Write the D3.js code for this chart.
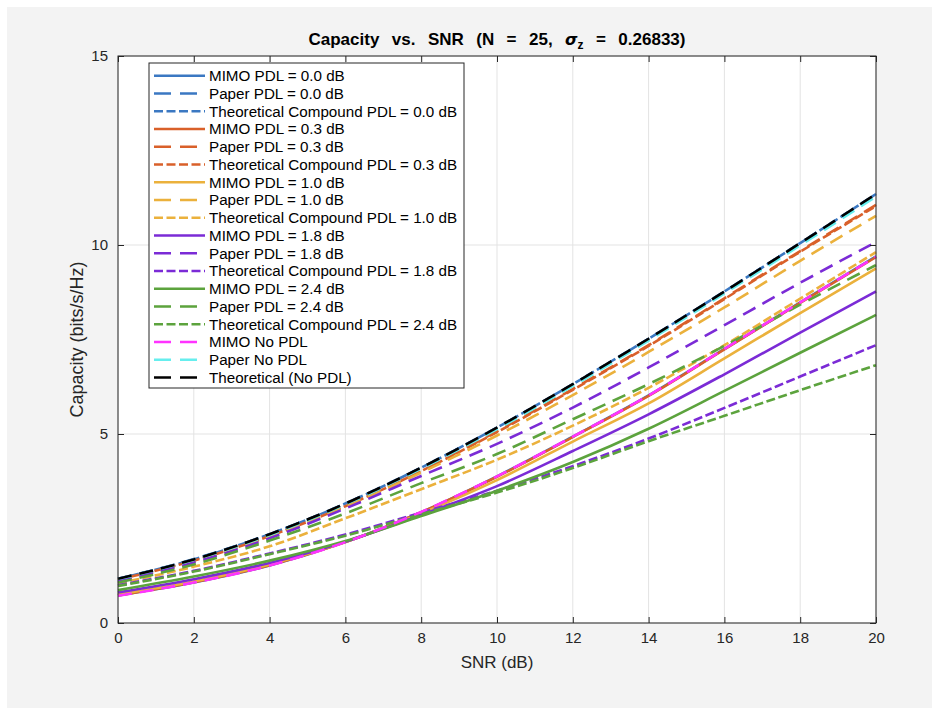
<!DOCTYPE html>
<html>
<head>
<meta charset="utf-8">
<script src="https://cdn.jsdelivr.net/npm/d3@7"></script>
<style>
  html, body { margin: 0; padding: 0; background: #ffffff; }
  svg { display: block; font-family: "Liberation Sans", Arial, Helvetica, sans-serif; }
</style>
</head>
<body>
<svg id="chart" width="938" height="715"></svg>
<script>
// SNR grid (dB)
const snr = [0, 2, 4, 6, 8, 10, 12, 14, 16, 18, 20];
const xTicks = [0, 2, 4, 6, 8, 10, 12, 14, 16, 18, 20];
const yTicks = [0, 5, 10, 15];

// Capacity (bits/s/Hz) per series
const mimoPdl00     = [0.73, 1.07, 1.52, 2.14, 2.93, 3.88, 4.93, 6.02, 7.25, 8.48, 9.70];
const paperPdl00    = [1.17, 1.69, 2.35, 3.16, 4.11, 5.17, 6.31, 7.52, 8.77, 10.05, 11.34];
const compoundPdl00 = [1.17, 1.68, 2.35, 3.16, 4.11, 5.17, 6.32, 7.52, 8.77, 10.05, 11.35];
const mimoPdl03     = [0.73, 1.08, 1.53, 2.14, 2.93, 3.87, 4.92, 6.01, 7.24, 8.47, 9.68];
const paperPdl03    = [1.15, 1.65, 2.31, 3.10, 4.03, 5.07, 6.19, 7.35, 8.59, 9.84, 11.06];
const compoundPdl03 = [1.15, 1.65, 2.30, 3.09, 4.02, 5.05, 6.17, 7.33, 8.57, 9.82, 11.03];
const mimoPdl10     = [0.76, 1.10, 1.55, 2.14, 2.90, 3.78, 4.80, 5.81, 7.00, 8.20, 9.38];
const paperPdl10    = [1.13, 1.63, 2.28, 3.07, 3.98, 4.96, 6.03, 7.17, 8.35, 9.58, 10.77];
const compoundPdl10 = [1.05, 1.49, 2.03, 2.77, 3.54, 4.32, 5.22, 6.22, 7.35, 8.58, 9.81];
const mimoPdl18     = [0.81, 1.16, 1.59, 2.15, 2.86, 3.62, 4.55, 5.52, 6.58, 7.68, 8.77];
const paperPdl18    = [1.11, 1.60, 2.24, 3.03, 3.89, 4.74, 5.70, 6.76, 7.88, 9.00, 10.08];
const compoundPdl18 = [1.00, 1.38, 1.84, 2.34, 2.92, 3.50, 4.15, 4.88, 5.69, 6.52, 7.35];
const mimoPdl24     = [0.87, 1.23, 1.65, 2.17, 2.83, 3.50, 4.26, 5.14, 6.14, 7.15, 8.15];
const paperPdl24    = [1.07, 1.55, 2.18, 2.90, 3.70, 4.47, 5.39, 6.32, 7.33, 8.42, 9.47];
const compoundPdl24 = [0.98, 1.36, 1.82, 2.31, 2.88, 3.45, 4.10, 4.81, 5.48, 6.16, 6.82];
const mimoNoPdl     = [0.72, 1.07, 1.52, 2.14, 2.94, 3.88, 4.93, 6.02, 7.25, 8.48, 9.69];
const paperNoPdl    = [1.16, 1.67, 2.33, 3.14, 4.08, 5.13, 6.27, 7.47, 8.72, 9.99, 11.28];
const theoryNoPdl   = [1.17, 1.68, 2.35, 3.16, 4.11, 5.17, 6.32, 7.52, 8.77, 10.05, 11.35];

const seriesNames = [
  "MIMO PDL = 0.0 dB", "Paper PDL = 0.0 dB", "Theoretical Compound PDL = 0.0 dB",
  "MIMO PDL = 0.3 dB", "Paper PDL = 0.3 dB", "Theoretical Compound PDL = 0.3 dB",
  "MIMO PDL = 1.0 dB", "Paper PDL = 1.0 dB", "Theoretical Compound PDL = 1.0 dB",
  "MIMO PDL = 1.8 dB", "Paper PDL = 1.8 dB", "Theoretical Compound PDL = 1.8 dB",
  "MIMO PDL = 2.4 dB", "Paper PDL = 2.4 dB", "Theoretical Compound PDL = 2.4 dB",
  "MIMO No PDL", "Paper No PDL", "Theoretical (No PDL)"
];
const seriesValues = [
  mimoPdl00, paperPdl00, compoundPdl00,
  mimoPdl03, paperPdl03, compoundPdl03,
  mimoPdl10, paperPdl10, compoundPdl10,
  mimoPdl18, paperPdl18, compoundPdl18,
  mimoPdl24, paperPdl24, compoundPdl24,
  mimoNoPdl, paperNoPdl, theoryNoPdl
];

// Styling
const pdlColors = ["#3b78c2", "#d9602a", "#ebb13c", "#7b2bd6", "#5ca33d"];
const styleDash = { solid: null, dashed: "14,8", dashdot: "9,3.5" };
const seriesColors = [];
const seriesDash = [];
pdlColors.forEach(c => {
  seriesColors.push(c, c, c);
  seriesDash.push(styleDash.solid, styleDash.dashed, styleDash.dashdot);
});
seriesColors.push("#ff33ff", "#66eeee", "#000000");
seriesDash.push(styleDash.dashed, styleDash.dashed, styleDash.dashed);

const svg = d3.select("#chart");
const W = 938, H = 715;

// Figure background
svg.append("rect").attr("x", 0).attr("y", 0).attr("width", W).attr("height", H).attr("fill", "#ffffff");
svg.append("rect").attr("x", 7).attr("y", 7).attr("width", 925).attr("height", 701).attr("fill", "#f3f3f3");

const plotLeft = 118, plotRight = 876, plotTop = 56, plotBottom = 623;
const x = d3.scaleLinear().domain([0, 20]).range([plotLeft, plotRight]);
const y = d3.scaleLinear().domain([0, 15]).range([plotBottom, plotTop]);

// Plot area
svg.append("rect").attr("x", plotLeft).attr("y", plotTop)
  .attr("width", plotRight - plotLeft).attr("height", plotBottom - plotTop).attr("fill", "#ffffff");

// Grid
const grid = svg.append("g");
grid.selectAll("line.gx").data(xTicks).join("line")
  .attr("x1", d => x(d)).attr("x2", d => x(d)).attr("y1", plotTop).attr("y2", plotBottom)
  .attr("stroke", "#e3e3e3").attr("stroke-width", 1);
grid.selectAll("line.gy").data(yTicks).join("line")
  .attr("x1", plotLeft).attr("x2", plotRight).attr("y1", d => y(d)).attr("y2", d => y(d))
  .attr("stroke", "#e3e3e3").attr("stroke-width", 1);

// Curves
const line = d3.line().x((d, i) => x(snr[i])).y(d => y(d)).curve(d3.curveMonotoneX);
const curves = svg.append("g");
seriesValues.forEach((vals, k) => {
  curves.append("path")
    .attr("d", line(vals))
    .attr("fill", "none")
    .attr("stroke", seriesColors[k])
    .attr("stroke-width", 2.6)
    .attr("stroke-dasharray", seriesDash[k])
    .attr("stroke-linejoin", "round");
});

// Axes
const axisColor = "#262626";
const xAxisB = d3.axisBottom(x).tickValues(xTicks).tickSize(-6).tickPadding(9).tickFormat(d3.format("d"));
const xAxisT = d3.axisTop(x).tickValues(xTicks).tickSize(-6).tickFormat("");
const yAxisL = d3.axisLeft(y).tickValues(yTicks).tickSize(-6).tickPadding(10).tickFormat(d3.format("d"));
const yAxisR = d3.axisRight(y).tickValues(yTicks).tickSize(-6).tickFormat("");

function styleAxis(g) {
  g.select(".domain").remove();
  g.selectAll(".tick line").attr("stroke", axisColor).attr("stroke-width", 1);
  g.selectAll(".tick text").attr("fill", "#262626").attr("font-size", 15)
    .attr("font-family", '"Liberation Sans", Arial, Helvetica, sans-serif');
}
svg.append("g").attr("transform", `translate(0,${plotBottom})`).call(xAxisB).call(styleAxis);
svg.append("g").attr("transform", `translate(0,${plotTop})`).call(xAxisT).call(styleAxis);
svg.append("g").attr("transform", `translate(${plotLeft},0)`).call(yAxisL).call(styleAxis);
svg.append("g").attr("transform", `translate(${plotRight},0)`).call(yAxisR).call(styleAxis);

svg.append("rect").attr("x", plotLeft).attr("y", plotTop)
  .attr("width", plotRight - plotLeft).attr("height", plotBottom - plotTop)
  .attr("fill", "none").attr("stroke", axisColor).attr("stroke-width", 1);

// Axis labels
svg.append("text").attr("x", (plotLeft + plotRight) / 2).attr("y", 668).attr("text-anchor", "middle")
  .attr("font-size", 17).attr("fill", "#262626").text("SNR (dB)");
svg.append("text").attr("transform", `translate(83,${(plotTop + plotBottom) / 2}) rotate(-90)`)
  .attr("text-anchor", "middle").attr("font-size", 18).attr("fill", "#262626").text("Capacity (bits/s/Hz)");

// Title
const title = svg.append("text").attr("x", (plotLeft + plotRight) / 2).attr("y", 45).attr("text-anchor", "middle")
  .attr("font-size", 17).attr("font-weight", "bold").attr("fill", "#000")
  .attr("font-family", '"Liberation Sans Narrow", "Liberation Sans", Arial, sans-serif')
  .style("white-space", "pre").attr("word-spacing", 1.5);
title.append("tspan").text("Capacity  vs.  SNR  (N  =  25,  ");
title.append("tspan").attr("font-style", "italic").attr("font-family", '"DejaVu Sans", sans-serif').attr("font-size", 16).text("σ");
title.append("tspan").attr("font-size", 12).attr("dy", 4).text("z");
title.append("tspan").attr("dy", -4).text("  =  0.26833)");

// Legend
const lg = svg.append("g");
const lgX = 149, lgY = 63, lgW = 315, lgH = 325, rowH = 17.75, row0 = 75.7;
lg.append("rect").attr("x", lgX).attr("y", lgY).attr("width", lgW).attr("height", lgH)
  .attr("fill", "#ffffff").attr("stroke", axisColor).attr("stroke-width", 1);
seriesNames.forEach((name, k) => {
  const cy = row0 + k * rowH;
  lg.append("line").attr("x1", 154).attr("x2", 205).attr("y1", cy).attr("y2", cy)
    .attr("stroke", seriesColors[k]).attr("stroke-width", 2.6)
    .attr("stroke-dasharray", seriesDash[k] === styleDash.dashed ? "17,9" : seriesDash[k]);
  lg.append("text").attr("x", 209).attr("y", cy + 5.3).attr("font-size", 15.2).attr("fill", "#000").text(name);
});
</script>
</body>
</html>
